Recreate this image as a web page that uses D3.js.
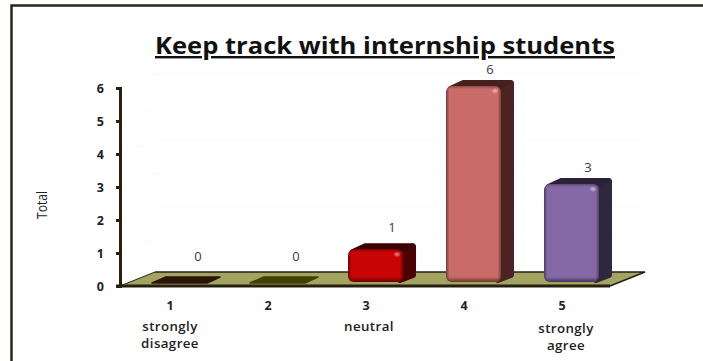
<!DOCTYPE html>
<html>
<head>
<meta charset="utf-8">
<script src="https://cdn.jsdelivr.net/npm/d3@7"></script>
<style>
  html, body { margin: 0; padding: 0; background: #fff; overflow: hidden; }
  text { font-family: "Open Sans", sans-serif; fill: #222; }
</style>
</head>
<body>
<svg id="chart"></svg>
<script>
const chartTitle = 'Keep track with internship students';
const categories = ['1', '2', '3', '4', '5'];
const totals = [0, 0, 1, 6, 3];
const yTicks = [0, 1, 2, 3, 4, 5, 6];
const scaleNotes = [['strongly', 'disagree'], [], ['neutral'], [], ['strongly', 'agree']];
const frontColors = ['#2b1408', '#404000', '#c80404', '#c96b67', '#8569a6'];
const sideColors = ['#2b1408', '#404000', '#4c0000', '#4d2321', '#2f2640'];
const topColors = ['#2b1408', '#404000', '#3a0000', '#45201e', '#2b2238'];

const width = 703, height = 361;
const depthX = 14, depthY = 6;      // bar extrusion
const floorDX = 35, floorDY = 14;   // floor perspective

const svg = d3.select('#chart').attr('width', width).attr('height', height);
const defs = svg.append('defs');

// Bevel shading laid over each bar's front face
const edgeGrad = defs.append('linearGradient').attr('id', 'edgeShade');
[[0, 0.45], [0.06, 0], [0.94, 0], [1, 0.4]].forEach(([o, a]) =>
  edgeGrad.append('stop').attr('offset', o).attr('stop-color', '#000').attr('stop-opacity', a));
const glint = defs.append('radialGradient').attr('id', 'glint');
[[0, 0.55], [1, 0]].forEach(([o, a]) =>
  glint.append('stop').attr('offset', o).attr('stop-color', '#fff').attr('stop-opacity', a));

const x = d3.scaleBand().domain(categories).range([130, 620]);
const barW = 55;
const barLeft = c => x(c) + x.bandwidth() / 2 - barW / 2 + 0.5;
const axisY = d3.scaleLinear().domain([0, 6]).range([286, 88]);
const barY = d3.scaleLinear().domain([0, 6]).range([282, 86]);

// Frame: top and left rules only
svg.append('path').attr('d', `M11.5,361V5.5H${width}`)
  .attr('fill', 'none').attr('stroke', '#2a2613').attr('stroke-width', 2.5);

// Title
svg.append('text').attr('x', 385).attr('y', 54).attr('text-anchor', 'middle')
  .attr('font-size', 24).attr('font-weight', 700)
  .attr('textLength', 460).attr('lengthAdjust', 'spacingAndGlyphs')
  .attr('text-decoration', 'underline').style('fill', '#111').text(chartTitle);

// Faint wall grid
const grid = svg.append('g').attr('stroke', '#fbfbfb').attr('fill', 'none');
yTicks.slice(1).forEach(t => {
  grid.append('path')
    .attr('d', `M122,${axisY(t)}L${122 + floorDX},${axisY(t) - floorDY}H645`);
});

// Floor
const floorL = 120, floorR = 610;
svg.append('path')
  .attr('d', `M${floorL},${axisY(0)}L${floorL + floorDX},${axisY(0) - floorDY}H${floorR + floorDX}L${floorR},${axisY(0)}Z`)
  .attr('fill', '#a3a362');
svg.append('path')
  .attr('d', `M${floorL + floorDX},${axisY(0) - floorDY}H${floorR + floorDX}L${floorR},${axisY(0)}`)
  .attr('fill', 'none').attr('stroke', '#26210f').attr('stroke-width', 1.5);
svg.append('path').attr('d', `M116,${axisY(0)}H${floorR}`)
  .attr('stroke', '#26210f').attr('stroke-width', 3);
svg.append('path').attr('d', `M${floorL},${axisY(0)}L${floorL + floorDX},${axisY(0) - floorDY}`)
  .attr('stroke', '#26210f').attr('stroke-width', 1);

// Y axis
const yAxis = svg.append('g').attr('transform', 'translate(120,0)')
  .call(d3.axisLeft(axisY).tickValues(yTicks).tickFormat(d3.format('d')).tickSize(4).tickPadding(12));
yAxis.select('.domain').attr('stroke', '#26210f').attr('stroke-width', 3);
yAxis.selectAll('.tick line').attr('stroke', '#26210f').attr('stroke-width', 3);
yAxis.selectAll('.tick text').attr('font-size', 12.5).attr('font-weight', 700)
  .style('font-family', '"Open Sans", sans-serif').style('fill', '#222');

svg.append('text').attr('transform', 'translate(47,205) rotate(-90)')
  .attr('text-anchor', 'middle').attr('font-size', 14)
  .attr('textLength', 28).attr('lengthAdjust', 'spacingAndGlyphs').text('Total');

// Bars
const bars = svg.selectAll('.bar').data(categories).join('g').attr('class', 'bar');

bars.each(function (c, i) {
  const g = d3.select(this);
  const v = totals[i];
  const l = barLeft(c), r = l + barW, t = barY(v), b = barY(0);

  if (v === 0) {
    // Empty category: only the flat base of the bar shows on the floor
    g.append('path')
      .attr('d', `M${l},${b + 1}L${l + depthX},${b - depthY + 1}H${r + depthX - 1}L${r},${b + 1}Z`)
      .attr('fill', frontColors[i]).attr('stroke', frontColors[i])
      .attr('stroke-width', 1.5).attr('stroke-linejoin', 'round');
    return;
  }

  g.append('path')
    .attr('d', `M${r - 3},${t + 3}L${r + depthX - 4},${t - depthY + 3}V${b - depthY - 1}L${r - 3},${b - 2}Z`)
    .attr('fill', sideColors[i]).attr('stroke', sideColors[i])
    .attr('stroke-width', 6).attr('stroke-linejoin', 'round');
  g.append('path')
    .attr('d', `M${l + 4},${t + 2}L${l + depthX + 3},${t - depthY + 2}H${r + depthX - 5}L${r - 3},${t + 2}Z`)
    .attr('fill', topColors[i]).attr('stroke', topColors[i])
    .attr('stroke-width', 4).attr('stroke-linejoin', 'round');

  // Top and bottom bevel stay a fixed few pixels whatever the bar height
  const h = b - t;
  const lid = defs.append('linearGradient').attr('id', `lidShade${i}`)
    .attr('x1', 0).attr('x2', 0).attr('y1', 0).attr('y2', 1);
  [[0, 0.3], [3 / h, 0], [1 - 5 / h, 0], [1, 0.5]].forEach(([o, a]) =>
    lid.append('stop').attr('offset', o).attr('stop-color', '#000').attr('stop-opacity', a));

  const face = () => g.append('rect').attr('x', l).attr('y', t)
    .attr('width', barW).attr('height', h).attr('rx', 6);
  face().attr('fill', frontColors[i]);
  face().attr('fill', 'url(#edgeShade)');
  face().attr('fill', `url(#lidShade${i})`);

  g.append('ellipse').attr('cx', r - 6).attr('cy', t + 5).attr('rx', 4).attr('ry', 3)
    .attr('fill', 'url(#glint)');
});

// Value labels, centred above the back edge of each bar
bars.append('text')
  .attr('x', (c, i) => barLeft(c) + (totals[i] === 0 ? 46 : 44))
  .attr('y', (c, i) => barY(totals[i]) - (totals[i] === 0 ? 21 : totals[i] === 1 ? 17 : 12))
  .attr('text-anchor', 'middle').attr('font-size', 13).style('fill', '#3a3a3a')
  .text((c, i) => totals[i]);

// Category numbers and scale wording
const catLabels = svg.selectAll('.cat').data(categories).join('g').attr('class', 'cat')
  .attr('transform', c => `translate(${barLeft(c) + 18},0)`);
catLabels.append('text').attr('y', 310).attr('text-anchor', 'middle')
  .attr('font-size', 12.5).attr('font-weight', 700).text(c => c);
catLabels.each(function (c, i) {
  d3.select(this).selectAll('.note').data(scaleNotes[i]).join('text').attr('class', 'note')
    .attr('x', i === 0 ? 0 : i === 2 ? 3 : 4)
    .attr('y', (d, j) => 331 + j * 17 + (i === 4 ? 2 : 0))
    .attr('text-anchor', 'middle').attr('font-size', 13.3).attr('font-weight', 600)
    .style('letter-spacing', '0.4px').text(d => d);
});
</script>
</body>
</html>
